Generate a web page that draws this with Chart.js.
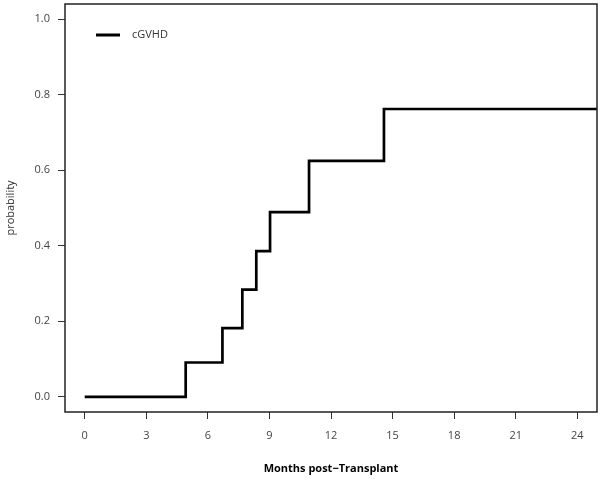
<!DOCTYPE html>
<html>
<head>
<meta charset="UTF-8">
<title>cGVHD</title>
<style>
body { margin: 0; background: #fff; }
.chart-container { width: 602px; height: 479px; position: relative; }
</style>
<script src="https://cdn.jsdelivr.net/npm/chart.js"></script>
</head>
<body>
<div class="chart-container">
	<canvas id="step-chart"></canvas>
</div>
<script>
// step times (months) and cumulative incidence
const months = [0, 4.92, 6.71, 7.68, 8.36, 9.03, 10.93, 14.58, 26];
const prob = [0, 0.091, 0.182, 0.284, 0.386, 0.489, 0.625, 0.762, 0.762];
const xTicks = [0, 3, 6, 9, 12, 15, 18, 21, 24];
const yTicks = [0, 0.2, 0.4, 0.6, 0.8, 1.0];
const seriesLabel = 'cGVHD';

const font = { family: 'Open Sans', size: 11 };

// box round the plot region + legend inside, R style
const boxPlugin = {
	id: 'box',
	afterDraw(chart) {
		const c = chart.ctx, a = chart.chartArea;
		c.save();
		c.strokeStyle = '#222';
		c.lineWidth = 1.5;
		c.strokeRect(a.left, a.top, a.right - a.left, a.bottom - a.top);
		// legend
		c.strokeStyle = '#000';
		c.lineWidth = 3;
		c.beginPath();
		c.moveTo(a.left + 31, a.top + 31);
		c.lineTo(a.left + 55, a.top + 31);
		c.stroke();
		c.fillStyle = '#333';
		c.font = '11px "Open Sans"';
		c.textBaseline = 'middle';
		c.fillText(chart.data.datasets[0].label, a.left + 67, a.top + 31);
		c.restore();
	}
};

new Chart(document.querySelector('#step-chart'), {
	type: 'scatter',
	data: {
		datasets: [{
			label: seriesLabel,
			data: months.map((m, i) => ({ x: m, y: prob[i] })),
			showLine: true,
			stepped: 'before',
			borderColor: '#000',
			borderWidth: 2.7,
			pointRadius: 0,
			fill: false
		}]
	},
	options: {
		responsive: true,
		maintainAspectRatio: false,
		animation: false,
		layout: { padding: { top: 4, right: 5, left: 0, bottom: 0 } },
		plugins: { legend: { display: false }, tooltip: { enabled: false } },
		scales: {
			x: {
				type: 'linear',
				min: -0.96,
				max: 24.96,
				afterBuildTicks: s => { s.ticks = xTicks.map(v => ({ value: v })); },
				afterFit: s => { s.height = 67; s.paddingLeft = 0; s.paddingRight = 0; },
				border: { display: false },
				grid: { drawOnChartArea: false, drawTicks: true, tickLength: 7, color: '#333', lineWidth: 1 },
				ticks: { color: '#444', font: font, padding: 10 },
				title: {
					display: true,
					text: 'Months post\u2212Transplant',
					color: '#000',
					font: { family: 'Open Sans', size: 11, weight: 'bold' },
					padding: { top: 14 }
				}
			},
			y: {
				min: -0.04,
				max: 1.04,
				afterBuildTicks: s => { s.ticks = yTicks.map(v => ({ value: v })); },
				afterFit: s => { s.width = 65; s.paddingTop = 0; s.paddingBottom = 0; },
				border: { display: false },
				grid: { drawOnChartArea: false, drawTicks: true, tickLength: 7, color: '#333', lineWidth: 1 },
				ticks: { color: '#444', font: font, padding: 8, callback: v => v.toFixed(1) },
				title: {
					display: true,
					text: 'probability',
					color: '#333',
					font: font,
					padding: { bottom: 0 }
				}
			}
		}
	},
	plugins: [boxPlugin]
});
</script>
</body>
</html>
